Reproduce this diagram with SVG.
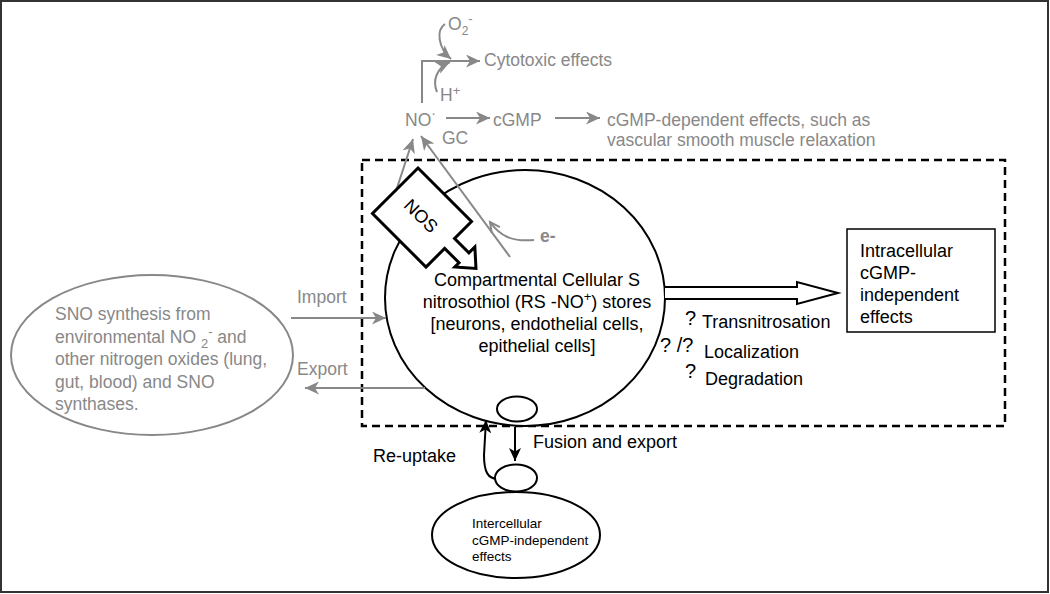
<svg xmlns="http://www.w3.org/2000/svg" width="1050" height="594" viewBox="0 0 1050 594">
<style>
.g{font-family:"Liberation Sans",Arial,sans-serif;font-size:17.5px;fill:#888}
.b{font-family:"Liberation Sans",Arial,sans-serif;font-size:18px;fill:#000}
.q{font-family:"Liberation Sans",Arial,sans-serif;font-size:20px;fill:#000}
.s{font-family:"Liberation Sans",Arial,sans-serif;font-size:13.5px;fill:#000}
.gl{fill:none;stroke:#888;stroke-width:2}
.bl{fill:none;stroke:#000;stroke-width:2}
</style>
<defs>
<marker id="ga" markerUnits="userSpaceOnUse" markerWidth="16" markerHeight="14" refX="14" refY="6.5" orient="auto">
<path d="M0,0 L14,6.5 L0,13 L4,6.5 Z" fill="#888"/>
</marker>
<marker id="gc" markerUnits="userSpaceOnUse" markerWidth="14" markerHeight="14" refX="11" refY="6" orient="auto">
<path d="M1,1 L11,6 L1,11" fill="none" stroke="#888" stroke-width="2"/>
</marker>
<marker id="ba" markerUnits="userSpaceOnUse" markerWidth="16" markerHeight="14" refX="13" refY="6" orient="auto">
<path d="M0,0 L13,6 L0,12 L3.5,6 Z" fill="#000"/>
</marker>
</defs>
<rect x="0" y="0" width="1050" height="594" fill="#fff"/>
<rect x="1" y="1" width="1047" height="591" fill="none" stroke="#333" stroke-width="2"/>

<g id="compartment">
<rect x="362" y="160" width="643" height="266" fill="none" stroke="#000" stroke-width="2.5" stroke-dasharray="8,5"/>
</g>

<g id="stores">
<ellipse cx="525" cy="298" rx="140" ry="128" fill="#fff" stroke="#000" stroke-width="2"/>
<text class="b" text-anchor="middle" x="537" y="286">Compartmental Cellular S</text>
<text class="b" text-anchor="middle" x="537" y="308">nitrosothiol (RS -NO<tspan font-size="13" dy="-7">+</tspan><tspan dy="7">) stores</tspan></text>
<text class="b" text-anchor="middle" x="537" y="330">[neurons, endothelial cells,</text>
<text class="b" text-anchor="middle" x="537" y="352">epithelial cells]</text>
</g>

<g id="connectors">
<path class="gl" d="M422,103 V61 H480" marker-end="url(#ga)"/>
<path class="gl" d="M445,24 C436,30 438,48 451,59" marker-end="url(#ga)"/>
<path class="gl" d="M437,92 C432,80 437,68 450,62" marker-end="url(#ga)"/>
<path class="gl" d="M446,118 H490" marker-end="url(#ga)"/>
<path class="gl" d="M555,118 H600" marker-end="url(#ga)"/>
<path class="gl" d="M397,188 L413,139" marker-end="url(#ga)"/>
<path class="gl" d="M510,257 L421,136" marker-end="url(#ga)"/>
<path class="gl" d="M534,240 C512,242 500,236 490,222" marker-end="url(#gc)"/>
<path class="gl" d="M291,318 H386" marker-end="url(#ga)"/>
<path class="gl" d="M425,388 H305" marker-end="url(#ga)"/>
<path class="bl" d="M515,427 V461" marker-end="url(#ba)"/>
<path class="bl" d="M498,479 C488,479 484,472 484,455 L486,420" marker-end="url(#ba)"/>
</g>

<g id="sno-synthesis">
<ellipse cx="152" cy="355" rx="141" ry="80" fill="none" stroke="#888" stroke-width="2"/>
<text class="g" x="55" y="320">SNO synthesis from</text>
<text class="g" x="55" y="342.5">environmental NO <tspan font-size="13" dy="5">2</tspan><tspan font-size="13" dy="-12">-</tspan><tspan dy="7"> and</tspan></text>
<text class="g" x="55" y="365">other nitrogen oxides (lung,</text>
<text class="g" x="55" y="387.5">gut, blood) and SNO</text>
<text class="g" x="55" y="410">synthases.</text>
</g>
<text class="g" x="297" y="303">Import</text>
<text class="g" x="297" y="375">Export</text>

<g id="vesicle-top">
<ellipse cx="517" cy="409" rx="20" ry="12.5" fill="#fff" stroke="#000" stroke-width="2"/>
</g>
<g id="vesicle-bottom">
<ellipse cx="516" cy="478" rx="21" ry="13.5" fill="#fff" stroke="#000" stroke-width="2"/>
</g>

<g id="nos" transform="translate(418,168) rotate(45)">
<path d="M0,0 H75.7 V24 H96 V15.6 L112,30 L96,44 V38 H75.7 V64.4 H0 Z" fill="#fff" stroke="#000" stroke-width="3" stroke-linejoin="miter"/>
<text class="b" text-anchor="middle" x="36" y="38" font-size="19.5">NOS</text>
</g>

<g id="no">
<text class="g" x="405" y="126">NO<tspan font-size="14" dy="-8">·</tspan></text>
<text class="g" x="442" y="144">GC</text>
</g>
<g id="o2"><text class="g" x="448" y="30">O<tspan font-size="12" dy="5">2</tspan><tspan font-size="13" dy="-12">-</tspan></text></g>
<g id="hplus"><text class="g" x="440" y="101">H<tspan font-size="13" dy="-6">+</tspan></text></g>
<g id="cytotoxic"><text class="g" x="484" y="66">Cytotoxic effects</text></g>
<g id="cgmp"><text class="g" x="493" y="126">cGMP</text></g>
<g id="cgmp-effects">
<text class="g" x="607" y="126">cGMP-dependent effects, such as</text>
<text class="g" x="607" y="146">vascular smooth muscle relaxation</text>
</g>
<g id="electron"><text class="g" x="540" y="242" font-weight="bold">e-</text></g>

<g id="big-arrow">
<path d="M665,287 H797 V282 L838,293 L797,304 V299 H665" fill="#fff" stroke="#000" stroke-width="2" stroke-linejoin="miter"/>
</g>

<g id="intracellular">
<rect x="847" y="229" width="148" height="103" fill="#fff" stroke="#000" stroke-width="1.5"/>
<text class="b" x="860" y="257">Intracellular</text>
<text class="b" x="860" y="279">cGMP-</text>
<text class="b" x="860" y="301">independent</text>
<text class="b" x="860" y="323">effects</text>
</g>

<g id="mechanisms">
<text class="q" x="685" y="325">?</text>
<text class="b" x="702" y="328">Transnitrosation</text>
<text class="q" x="660" y="352">? /?</text>
<text class="b" x="704" y="358">Localization</text>
<text class="q" x="685" y="378">?</text>
<text class="b" x="705" y="385">Degradation</text>
</g>

<text class="b" x="373" y="462">Re-uptake</text>
<text class="b" x="533" y="448">Fusion and export</text>

<g id="intercellular">
<ellipse cx="516" cy="535" rx="84" ry="43" fill="#fff" stroke="#000" stroke-width="2"/>
<text class="s" x="472" y="528">Intercellular</text>
<text class="s" x="472" y="545">cGMP-independent</text>
<text class="s" x="472" y="561">effects</text>
</g>
</svg>
